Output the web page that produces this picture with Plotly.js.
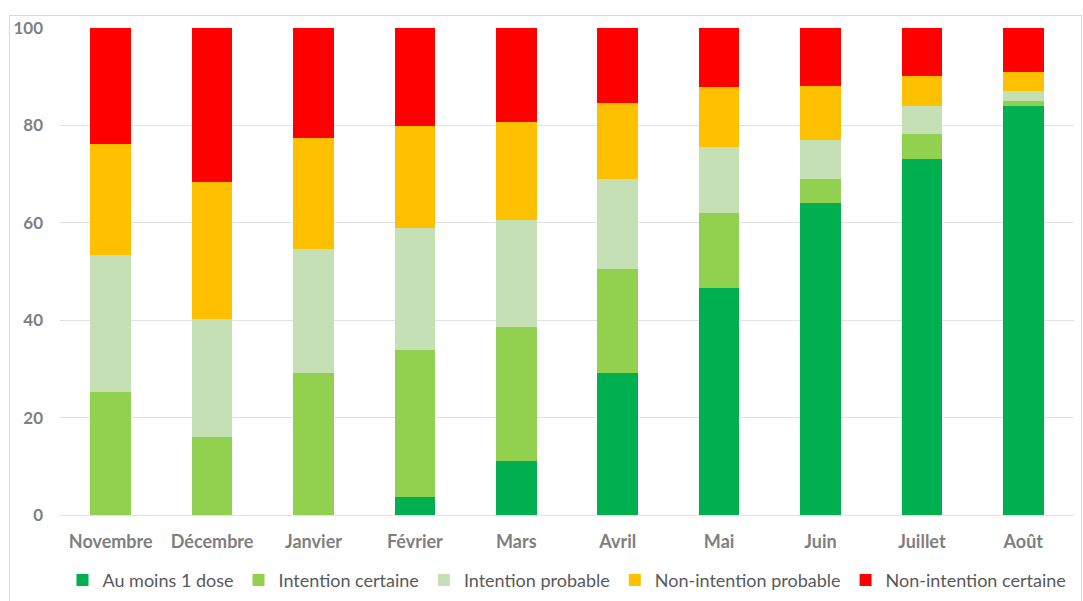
<!DOCTYPE html>
<html>
<head>
<meta charset="utf-8">
<script src="https://cdn.plot.ly/plotly-3.0.1.min.js"></script>
<style>
  html, body { margin: 0; padding: 0; background: #fff; }
  #wrap { position: relative; width: 1083px; height: 601px; }
  #chart { width: 1083px; height: 601px; }
  #frame { position: absolute; left: 9px; top: 15px; width: 1071px; height: 590px; border: 1px solid #d9d9d9; pointer-events: none; }
</style>
</head>
<body>
<div id="wrap">
  <div id="chart"></div>
  <div id="frame"></div>
</div>
<script>
const months = ["Novembre", "Décembre", "Janvier", "Février", "Mars", "Avril", "Mai", "Juin", "Juillet", "Août"];
const auMoins1Dose        = [0,    0,    0,    3.7,  11.1, 29.2, 46.7, 64.0, 73.1, 84.0];
const intentionCertaine   = [25.3, 16.0, 29.2, 30.2, 27.5, 21.3, 15.4, 5.0,  5.1,  1.0];
const intentionProbable   = [28.1, 24.2, 25.4, 25.0, 22.0, 18.5, 13.5, 8.0,  5.8,  2.1];
const nonIntentionProbable= [22.8, 28.2, 22.8, 21.0, 20.1, 15.6, 12.3, 11.0, 6.1,  3.9];
const nonIntentionCertaine= [23.8, 31.6, 22.6, 20.1, 19.3, 15.4, 12.1, 12.0, 9.9,  9.0];

const seriesNames = ["Au moins 1 dose", "Intention certaine", "Intention probable", "Non-intention probable", "Non-intention certaine"];
const seriesValues = [auMoins1Dose, intentionCertaine, intentionProbable, nonIntentionProbable, nonIntentionCertaine];
const seriesColors = ["#00b050", "#92d050", "#c5e0b4", "#ffc000", "#ff0000"];

const traces = seriesNames.map((n, i) => ({
  type: "bar",
  name: n,
  x: months,
  y: seriesValues[i],
  marker: { color: seriesColors[i], line: { width: 0 } },
  hoverinfo: "x+y+name"
}));

const layout = {
  width: 1083, height: 601,
  barmode: "stack",
  bargap: 0.6,
  paper_bgcolor: "#ffffff",
  plot_bgcolor: "#ffffff",
  margin: { l: 60, r: 9, t: 28, b: 86, autoexpand: false },
  font: { family: "Lato, 'Open Sans', sans-serif", color: "#595959", size: 15 },
  xaxis: {
    type: "category",
    showgrid: false,
    zeroline: false,
    showline: false,
    ticks: "",
    tickfont: { size: 18, color: "#7f7f7f", family: "Lato, 'Open Sans', sans-serif", weight: "bold" },
    ticklabelstandoff: 14
  },
  yaxis: {
    range: [0, 100],
    tickvals: [0, 20, 40, 60, 80, 100],
    showgrid: true,
    gridcolor: "#e3e3e3",
    gridwidth: 1,
    zeroline: true,
    zerolinecolor: "#e3e3e3",
    showline: false,
    ticks: "",
    tickfont: { size: 17, color: "#7f7f7f", family: "Lato, 'Open Sans', sans-serif", weight: "bold" },
    ticklabelstandoff: 16
  },
  legend: {
    orientation: "h",
    x: 0.5, xanchor: "center",
    y: -0.134, yanchor: "middle",
    font: { size: 18, color: "#595959" },
    itemwidth: 30,
    traceorder: "normal",
    itemclick: false
  },
  showlegend: true
};

Plotly.newPlot("chart", traces, layout, { displayModeBar: false, staticPlot: true });
</script>
</body>
</html>
